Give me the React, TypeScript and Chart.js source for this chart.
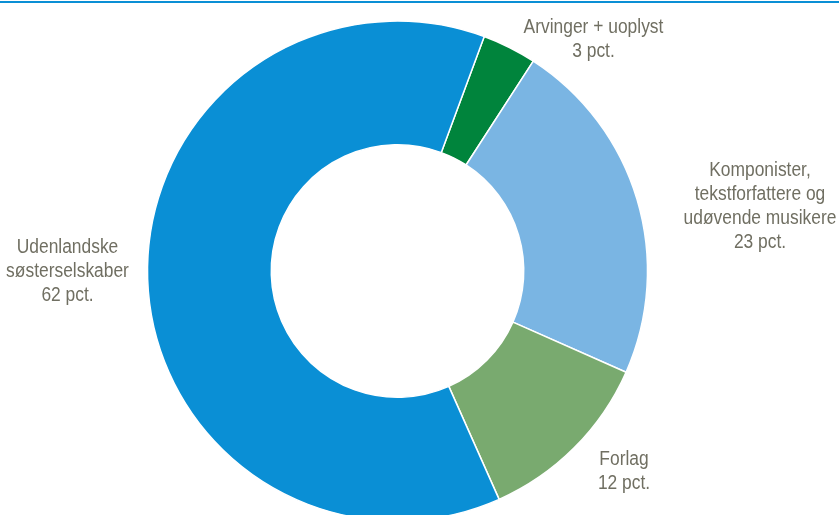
import React, { useEffect, useRef } from "react";
import { Chart, registerables } from "chart.js";

Chart.register(...registerables);

const categories = [
  "Arvinger + uoplyst",
  "Komponister, tekstforfattere og udøvende musikere",
  "Forlag",
  "Udenlandske søsterselskaber",
];
const values = [3.5, 22.5, 11.7, 62.3];
const labelLines = [
  ["Arvinger + uoplyst", "3 pct."],
  ["Komponister,", "tekstforfattere og", "udøvende musikere", "23 pct."],
  ["Forlag", "12 pct."],
  ["Udenlandske", "søsterselskaber", "62 pct."],
];
const colors = ["#00843c", "#7ab5e3", "#79aa6f", "#0a8fd5"];
// label block centres relative to chart centre, in units of outer radius
const labelAnchors = [
  [0.784, -0.934],
  [1.45, -0.266],
  [0.906, 0.794],
  [-1.32, -0.006],
];

const labelPlugin = {
  id: "outerLabels",
  afterDraw(chart: any) {
    const meta = chart.getDatasetMeta(0);
    const arc = meta.data[0];
    if (!arc) return;
    const cx = arc.x;
    const cy = arc.y;
    const R = arc.outerRadius;
    const ctx = chart.ctx;
    const fontSize = 20;
    const lh = 24;
    const sx = 0.87;
    ctx.save();
    ctx.font = `${fontSize}px "Liberation Sans", Arial, sans-serif`;
    ctx.fillStyle = "#706f62";
    ctx.textAlign = "center";
    ctx.textBaseline = "alphabetic";
    labelLines.forEach((lines, i) => {
      const ax = cx + labelAnchors[i][0] * R;
      const ay = cy + labelAnchors[i][1] * R;
      const n = lines.length;
      lines.forEach((t, j) => {
        const y = ay + (j - (n - 1) / 2) * lh + 0.358 * fontSize;
        ctx.save();
        ctx.translate(ax, y);
        ctx.scale(sx, 1);
        ctx.fillText(t, 0, 0);
        ctx.restore();
      });
    });
    ctx.restore();
  },
};

export default function App() {
  const ref = useRef<HTMLCanvasElement>(null);
  useEffect(() => {
    if (!ref.current) return;
    const chart = new Chart(ref.current, {
      type: "doughnut",
      data: {
        labels: categories,
        datasets: [
          {
            data: values,
            backgroundColor: colors,
            borderColor: "#ffffff",
            borderWidth: 1.5,
          },
        ],
      },
      options: {
        responsive: false,
        animation: false,
        rotation: 20.3,
        cutout: "50.5%",
        radius: 250,
        layout: { padding: { top: 21, bottom: 19, left: 0, right: 44 } },
        plugins: {
          legend: { display: false },
          tooltip: { enabled: false },
        },
      },
      plugins: [labelPlugin],
    });
    return () => chart.destroy();
  }, []);
  return (
    <div
      style={{
        position: "fixed",
        left: 0,
        top: 0,
        width: 839,
        height: 515,
        overflow: "hidden",
        background: "#ffffff",
      }}
    >
      <canvas
        ref={ref}
        width={839}
        height={540}
        style={{ position: "absolute", left: 0, top: 0, width: 839, height: 540 }}
      />
      <div
        style={{
          position: "absolute",
          left: 0,
          top: 1,
          width: 839,
          height: 2,
          background: "#0a8fd5",
        }}
      />
    </div>
  );
}
